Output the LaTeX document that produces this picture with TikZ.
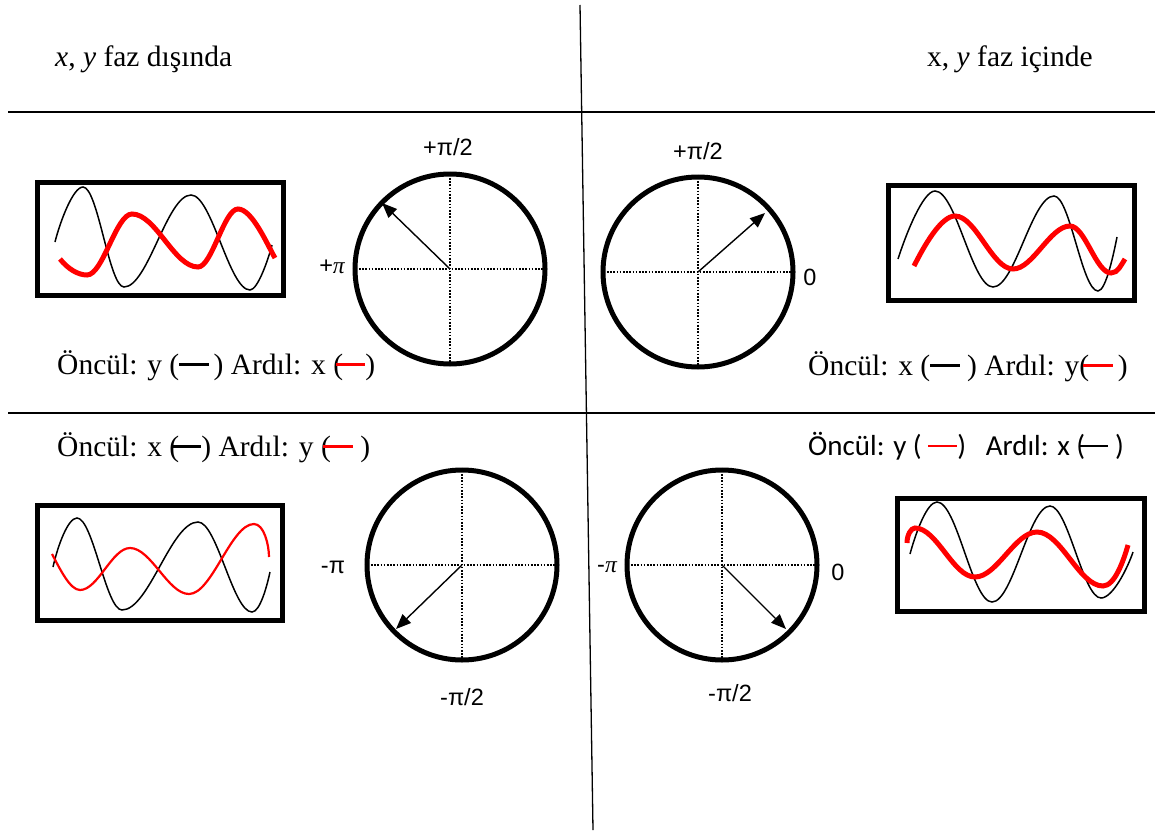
\documentclass[tikz,border=0pt]{standalone}
\usepackage{fontspec}
\setmainfont{Liberation Serif}
\newfontfamily\arial{Liberation Sans}
\newfontfamily\calibri{Carlito}
\usetikzlibrary{arrows.meta}
\newcommand{\bdash}[1]{\textcolor{#1}{\rule[0.27em]{1em}{2.6pt}}}
\newcommand{\itpi}{{\rmfamily\itshape π}}
\begin{document}
\begin{tikzpicture}[x=1pt,y=-1pt,
  rulel/.style={line width=1.3pt},
  ring/.style={circle, draw, line width=5pt, minimum size=190pt, inner sep=0pt},
  axisl/.style={line width=1.8pt, dash pattern=on 1.6pt off 1.6pt},
  phasor/.style={line width=1.4pt, -{Triangle[length=15pt,width=12pt]}},
  wavebox/.style={draw, line width=5pt, inner sep=0pt},
  thinwave/.style={line width=1.5pt, black},
  thickred/.style={line width=5pt, red},
  midred/.style={line width=2.2pt, red},
  serif/.style={font=\fontsize{29.5}{34}\selectfont, inner sep=0pt, anchor=base west},
  sans/.style={font=\calibri\fontsize{29}{34}\selectfont, inner sep=0pt, anchor=base west},
  lab/.style={font=\arial\fontsize{23.5}{28}\selectfont, inner sep=0pt}]
\useasboundingbox (0,0) rectangle (1155,832);
\fill[white] (0,0) rectangle (1155,832);

% dividers
\coordinate (vtop) at (580,5);
\coordinate (vbot) at (593,830);
\coordinate (h1l) at (8,112);
\coordinate (h1r) at (1155,112);
\coordinate (h2l) at (8,413);
\coordinate (h2r) at (1155,413);
\draw[rulel] (vtop) -- (vbot);
\draw[rulel] (h1l) -- (h1r);
\draw[rulel] (h2l) -- (h2r);

% titles
\node[serif] (title1) at (55,67) {\textit{x}, \textit{y} faz dışında};
\node[serif] (title2) at (927,67) {x, \textit{y} faz içinde};

% boxes
\node[wavebox, minimum width=246pt, minimum height=112.5pt] (b1) at (160,238.75) {};
\node[wavebox, minimum width=246.5pt, minimum height=114.5pt] (b2) at (1011.25,242.75) {};
\node[wavebox, minimum width=245pt, minimum height=115pt] (b3) at (160,563) {};
\node[wavebox, minimum width=246.5pt, minimum height=113.5pt] (b4) at (1020.75,554.75) {};

% waves top-left
\draw[thinwave] (55,242) .. controls +(5,-20) and +(-10,0) .. (83,187)
  .. controls +(15,0) and +(-15,0) .. (124,287)
  .. controls +(24,0) and +(-24,0) .. (191,195)
  .. controls +(21,0) and +(-21,0) .. (250,290)
  .. controls +(8,0) and +(-3,12) .. (272,245);
\draw[thickred] (60,259) .. controls +(8,10) and +(-9,0) .. (87,275)
  .. controls +(16,0) and +(-16,0) .. (132,214)
  .. controls +(24,0) and +(-24,0) .. (198,267)
  .. controls +(14,0) and +(-14,0) .. (238,209)
  .. controls +(14,0) and +(-8,-14) .. (275,258);

% waves top-right
\draw[thinwave] (898,259) .. controls +(8,-25) and +(-12,0) .. (935,191)
  .. controls +(21,0) and +(-21,0) .. (993,287)
  .. controls +(22,0) and +(-22,0) .. (1054,196)
  .. controls +(16,0) and +(-16,0) .. (1098,291)
  .. controls +(8,0) and +(-3,15) .. (1117,237);
\draw[thickred] (914,266) .. controls +(10,-20) and +(-14,0) .. (955,216)
  .. controls +(21,0) and +(-21,0) .. (1013,269)
  .. controls +(20,0) and +(-20,0) .. (1070,226)
  .. controls +(15,0) and +(-15,0) .. (1111,273)
  .. controls +(7,0) and +(-4,6) .. (1125,259);

% waves bottom-left
\draw[thinwave] (53,567) .. controls +(5,-22) and +(-9,0) .. (77,518)
  .. controls +(16,0) and +(-16,0) .. (122,610)
  .. controls +(27,0) and +(-27,0) .. (198,522)
  .. controls +(19,0) and +(-19,0) .. (252,612)
  .. controls +(8,0) and +(-3,14) .. (270,572);
\draw[midred] (52,554) .. controls +(8,15) and +(-10,0) .. (80,590)
  .. controls +(18,0) and +(-18,0) .. (130,548)
  .. controls +(21,0) and +(-21,0) .. (189,594)
  .. controls +(23,0) and +(-23,0) .. (254,524)
  .. controls +(10,0) and +(0,-12) .. (269,557);

% waves bottom-right
\draw[thinwave] (910,554) .. controls +(6,-22) and +(-10,0) .. (937,502)
  .. controls +(20,0) and +(-20,0) .. (992,602)
  .. controls +(21,0) and +(-21,0) .. (1050,506)
  .. controls +(18,0) and +(-18,0) .. (1101,598)
  .. controls +(12,0) and +(-5,15) .. (1133,552);
\draw[thickred] (907,543) .. controls +(0,-8) and +(-4,0) .. (915,528)
  .. controls +(22,0) and +(-22,0) .. (975,577)
  .. controls +(22,0) and +(-22,0) .. (1037,532)
  .. controls +(24,0) and +(-24,0) .. (1103,586)
  .. controls +(12,0) and +(-4,14) .. (1128,545);

% circles
\node[ring] (c1) at (450,269) {};
\node[ring] (c2) at (698,272) {};
\node[ring] (c3) at (462,565) {};
\node[ring] (c4) at (722,565) {};
\foreach \c in {c1,c2,c3,c4}{
  \draw[axisl] (\c.west) -- (\c.east);
  \draw[axisl] (\c.north) -- (\c.south);
}
\coordinate (p1) at (382,203);
\coordinate (p2) at (765,213);
\coordinate (p3) at (396,629);
\coordinate (p4) at (786,629);
\draw[phasor] (c1.center) -- (p1);
\draw[phasor] (c2.center) -- (p2);
\draw[phasor] (c3.center) -- (p3);
\draw[phasor] (c4.center) -- (p4);

% circle labels
\node[lab] (l1a) at (448,147) {+π/2};
\node[lab] (l1b) at (332,267) {+\itpi};
\node[lab] (l2a) at (698,151) {+π/2};
\node[lab] (l2b) at (810,277) {0};
\node[lab] (l3a) at (333,567) {-π};
\node[lab] (l3b) at (462,697) {-π/2};
\node[lab] (l4a) at (607,567) {-\itpi};
\node[lab] (l4b) at (838,572) {0};
\node[lab] (l4c) at (730,693) {-π/2};

% legends
\node[serif] (t1) at (57,374) {Öncül: y (\bdash{black}\,) Ardıl: x (\kern-0.25em\bdash{red})};
\node[serif] (t2) at (808,375) {Öncül: x (\bdash{black}\ ) Ardıl: y(\kern-0.2em\bdash{red}\,)};
\node[serif] (t3) at (57,456) {Öncül: x (\kern-0.25em\bdash{black}) Ardıl: y (\kern-0.25em\bdash{red}\ )};
\node[sans] (t4) at (808,455) {Öncül: y ( \bdash{red}) \ \ Ardıl: x (\kern-0.2em\bdash{black}\ )};
\end{tikzpicture}
\end{document}
